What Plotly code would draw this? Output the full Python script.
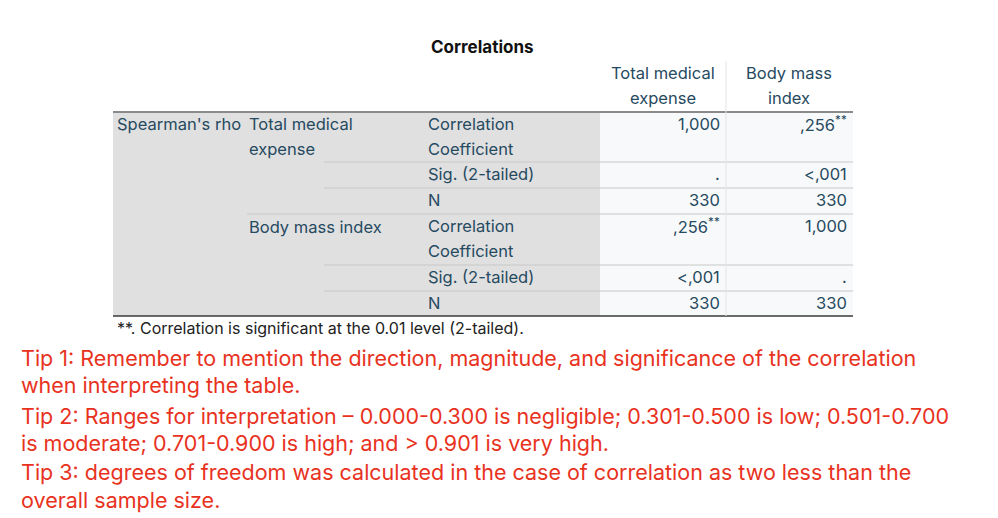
import plotly.graph_objects as go

# table content
TITLE = "Correlations"
COL_HEADERS = [["Total medical", "expense"], ["Body mass", "index"]]
ROW_GROUP = "Spearman's rho"
VARIABLES = [["Total medical", "expense"], ["Body mass index"]]
STATS = [["Correlation", "Coefficient"], ["Sig. (2-tailed)"], ["N"]]
COL1_VALUES = ["1,000", ".", "330", ",256<sup>**</sup>", "<,001", "330"]
COL2_VALUES = [",256<sup>**</sup>", "<,001", "330", "1,000", ".", "330"]
FOOTNOTE = "**. Correlation is significant at the 0.01 level (2-tailed)."
TIPS = [
    "Tip 1: Remember to mention the direction, magnitude, and significance of the correlation",
    "when interpreting the table.",
    "Tip 2: Ranges for interpretation \u2013 0.000-0.300 is negligible; 0.301-0.500 is low; 0.501-0.700",
    "is moderate; 0.701-0.900 is high; and > 0.901 is very high.",
    "Tip 3: degrees of freedom was calculated in the case of correlation as two less than the",
    "overall sample size.",
]

TXT = "#264a60"
RED = "#e8321e"
FONT = "Inter, Noto Sans, sans-serif"

# row boundaries (pixel space)
row_top = [96, 146, 172, 198, 249, 275]
row_bot = [146, 172, 198, 249, 275, 300]
TIP_Y = [342, 369, 400, 427, 456, 484]
LINE_H = 25

fig = go.Figure()
shapes = []
ann = []

# backgrounds
shapes.append(dict(type="rect", x0=116, x1=603, y0=96, y1=300, fillcolor="#e0e0e0", line_width=0, layer="below"))
shapes.append(dict(type="rect", x0=603, x1=856, y0=96, y1=300, fillcolor="#f8f9fa", line_width=0, layer="below"))

# horizontal lines
for i, y in enumerate(row_bot[:-1]):
    x0 = 250 if i == 2 else 327
    shapes.append(dict(type="line", x0=x0, x1=856, y0=y, y1=y, line=dict(color="#c8c8c8", width=1)))
shapes.append(dict(type="line", x0=116, x1=856, y0=96, y1=96, line=dict(color="#8a8a8a", width=2)))
shapes.append(dict(type="line", x0=116, x1=856, y0=300, y1=300, line=dict(color="#3a3a3a", width=1.5)))
shapes.append(dict(type="line", x0=729, x1=729, y0=45, y1=300, line=dict(color="#e4e4e4", width=1)))


def text(x, y, s, anchor="left", size=16.5, color=TXT, bold=False):
    ann.append(dict(x=x, y=y, text=f"<b>{s}</b>" if bold else s, showarrow=False,
                    xanchor=anchor, yanchor="middle",
                    font=dict(family=FONT, size=size, color=color)))


def lines(x, y, parts, anchor="left"):
    for k, p in enumerate(parts):
        text(x, y + k * LINE_H, p, anchor=anchor)


text(485, 31, TITLE, anchor="center", size=17, color="#111", bold=True)
lines(666, 57, COL_HEADERS[0], anchor="center")
lines(792, 57, COL_HEADERS[1], anchor="center")
text(118, 108, ROW_GROUP)
lines(250, 108, VARIABLES[0])
lines(250, 211, VARIABLES[1])
for i in range(6):
    mid = row_top[i] + 12
    lines(429, mid, STATS[i % 3])
    text(725, mid, COL1_VALUES[i], anchor="right")
    text(852, mid, COL2_VALUES[i], anchor="right")
text(118, 312, FOOTNOTE, size=16, color="#222")

for y, t in zip(TIP_Y, TIPS):
    text(22, y, t, size=21.5, color=RED)

fig.update_layout(
    width=998, height=518,
    margin=dict(l=0, r=0, t=0, b=0),
    paper_bgcolor="white", plot_bgcolor="white",
    xaxis=dict(visible=False, range=[11, 1009], fixedrange=True),
    yaxis=dict(visible=False, range=[510, -8], fixedrange=True),
    shapes=shapes, annotations=ann, showlegend=False,
)
fig.write_html("out.html")
